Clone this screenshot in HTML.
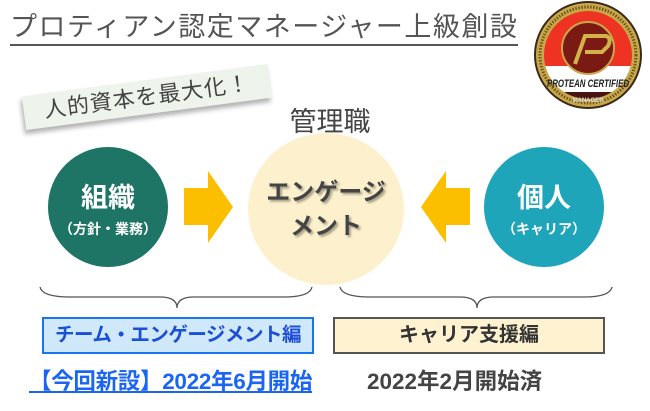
<!DOCTYPE html>
<html><head><meta charset="utf-8"><style>
body{margin:0;width:650px;height:411px;background:#fff;position:relative;overflow:hidden;font-family:"Liberation Sans","Noto Sans CJK JP",sans-serif}
.a{position:absolute}
</style></head><body>
<div class="a" style="left:10px;top:10px;font-size:27px;color:#555;letter-spacing:1.5px;line-height:34px;white-space:nowrap;border-bottom:2px solid #555;padding-bottom:0">プロティアン認定マネージャー上級創設</div>
<div class="a" style="left:23px;top:80px;width:248px;height:34px;background:#eef4ec;transform:rotate(-7.5deg);box-shadow:-2px 4px 5px rgba(0,0,0,.3);font-size:22px;color:#444;line-height:34px;text-align:center;letter-spacing:1px">人的資本を最大化！</div>
<div class="a" style="left:270px;top:106px;width:120px;text-align:center;font-size:27px;color:#444;line-height:32px">管理職</div>
<svg class="a" style="left:0;top:0" width="650" height="411">
<ellipse cx="108" cy="207" rx="60" ry="60" fill="#1f7565"/>
<ellipse cx="326" cy="209" rx="78" ry="76" fill="#fdf1cd"/>
<ellipse cx="544" cy="207" rx="60" ry="60" fill="#1fa5b9"/>
<polygon points="184,188 208,188 208,171 233,207 208,243 208,225 184,225" fill="#fcbf00"/>
<polygon points="470,188 446,188 446,171 421,207 446,243 446,225 470,225" fill="#fcbf00"/>
<path d="M40,287 Q42,297 70,297 L160,297 Q177,297 177,308 Q177,297 194,297 L284,297 Q310,297 312,287" fill="none" stroke="#555" stroke-width="1.3"/>
<path d="M340,287 Q342,297 370,297 L460,297 Q477,297 477,308 Q477,297 494,297 L584,297 Q610,297 612,287" fill="none" stroke="#555" stroke-width="1.3"/>
<g>
<circle cx="588" cy="55" r="53" fill="#c9a84a" stroke="#3a2a1a" stroke-width="2"/>
<circle cx="588" cy="55" r="48" fill="none" stroke="#6b5520" stroke-width="3" stroke-dasharray="1.5 1.5"/>
<clipPath id="c"><circle cx="588" cy="55" r="44"/></clipPath>
<g clip-path="url(#c)">
<rect x="540" y="8" width="100" height="60" fill="#ee3322"/>
<rect x="540" y="66" width="100" height="28" fill="#fff"/>
<rect x="540" y="92" width="100" height="20" fill="#4a1212"/>
<circle cx="588" cy="48" r="26" fill="#7a1a12" stroke="#c9a84a" stroke-width="2"/>
<path d="M575,64 L585,36 L606,36 Q612,38 608,46 L602,52 L585,52" fill="none" stroke="#d4b24a" stroke-width="4"/>
</g>
<text x="588" y="87" font-size="11" text-anchor="middle" font-style="italic" font-weight="bold" fill="#222" textLength="82" lengthAdjust="spacingAndGlyphs">PROTEAN CERTIFIED</text>
<text x="588" y="102" font-size="6" text-anchor="middle" font-weight="bold" fill="#ddd">MANAGER</text>
</g>
</svg>
<div class="a" style="left:48px;top:182px;width:120px;text-align:center;color:#fff;font-weight:bold;font-size:27px;line-height:32px">組織</div>
<div class="a" style="left:48px;top:220px;width:120px;text-align:center;color:#fff;font-weight:bold;font-size:14px;line-height:18px">（方針・業務）</div>
<div class="a" style="left:484px;top:182px;width:120px;text-align:center;color:#fff;font-weight:bold;font-size:27px;line-height:32px">個人</div>
<div class="a" style="left:484px;top:220px;width:120px;text-align:center;color:#fff;font-weight:bold;font-size:14px;line-height:18px">（キャリア）</div>
<div class="a" style="left:246px;top:176px;width:160px;text-align:center;color:#444;font-weight:bold;font-size:24px;line-height:34px;text-shadow:2px 2px 2px rgba(0,0,0,.35)">エンゲージ<br>メント</div>
<div class="a" style="left:42px;top:317px;width:268px;height:33px;background:#cfe9fb;border:2px solid #1a73f0;text-align:center;font-weight:bold;font-size:19.5px;line-height:33px;color:#1d4fd6;letter-spacing:-0.5px">チーム・エンゲージメント編</div>
<div class="a" style="left:333px;top:317px;width:268px;height:33px;background:#fef2d1;border:2px solid #555;text-align:center;font-weight:bold;font-size:20px;line-height:33px;color:#333">キャリア支援編</div>
<div class="a" style="left:29px;top:368px;font-size:22.5px;color:#1a66f2;text-decoration:underline;line-height:28px;white-space:nowrap;font-weight:bold;letter-spacing:-0.3px">【今回新設】2022年6月開始</div>
<div class="a" style="left:367px;top:368px;font-size:22.5px;color:#444;line-height:28px;white-space:nowrap;font-weight:bold">2022年2月開始済</div>
</body></html>
